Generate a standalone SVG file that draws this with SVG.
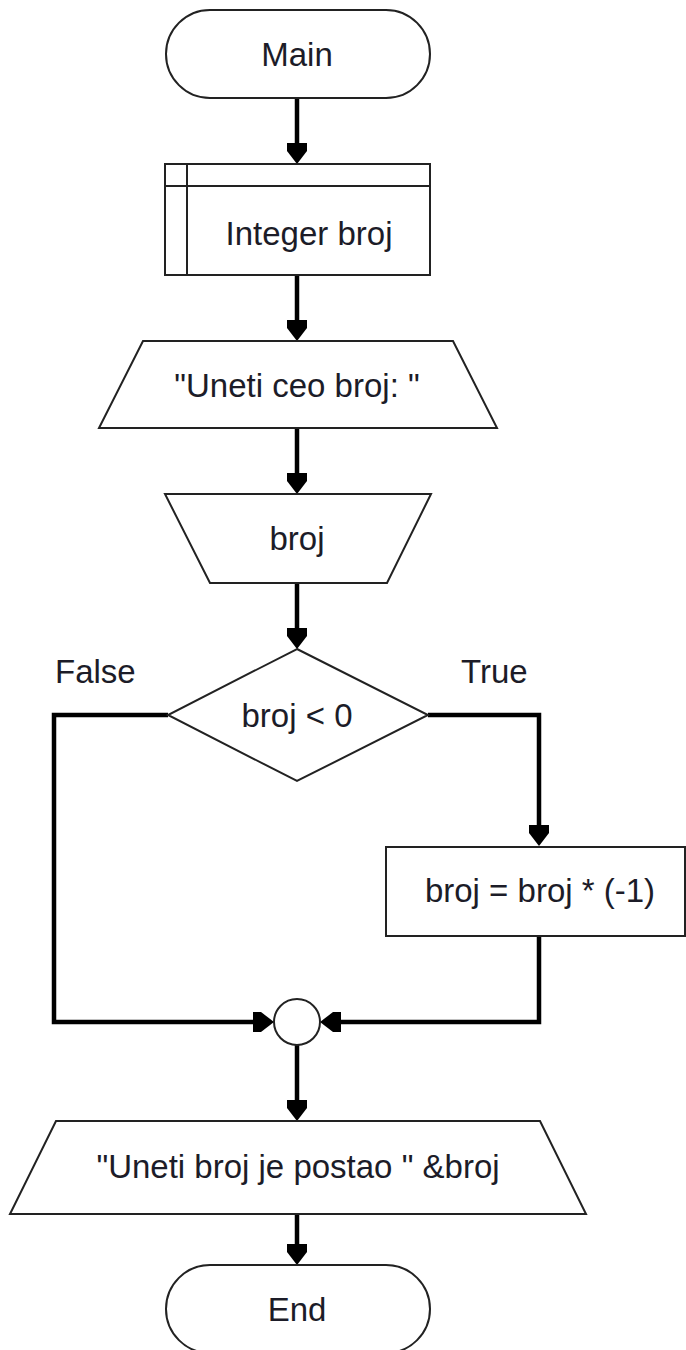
<svg xmlns="http://www.w3.org/2000/svg" width="686" height="1350" viewBox="0 0 686 1350">
  <style>
    .shape { fill: #ffffff; stroke: #222222; stroke-width: 2; }
    .lbl { font-family: "Liberation Sans", Arial, sans-serif; font-size: 33px; fill: #1c1c28; text-anchor: middle; }
    .side { font-family: "Liberation Sans", Arial, sans-serif; font-size: 33px; fill: #1c1c28; }
    .wire { fill: none; stroke: #000000; stroke-width: 4.5; stroke-linejoin: miter; }
  </style>
  <defs>
    <!-- arrowhead: tip at (0,0); the path ends 8px before the tip -->
    <marker id="head" viewBox="-22 -12 24 24" refX="-8" refY="0" markerWidth="24" markerHeight="24" markerUnits="userSpaceOnUse" orient="auto">
      <path d="M0,0 L-13,-10 L-21,-10 L-21,10 L-13,10 Z" fill="#000000"/>
    </marker>
  </defs>

  <rect width="686" height="1350" fill="#ffffff"/>

  <!-- connectors -->
  <g id="connectors">
    <path class="wire" d="M297,98 V156" marker-end="url(#head)"/>
    <path class="wire" d="M297,275 V333" marker-end="url(#head)"/>
    <path class="wire" d="M297,428 V486" marker-end="url(#head)"/>
    <path class="wire" d="M297,583 V641" marker-end="url(#head)"/>
    <path class="wire" d="M168,715 H54 V1022 H266" marker-end="url(#head)"/>
    <path class="wire" d="M428,715 H539 V838" marker-end="url(#head)"/>
    <path class="wire" d="M539,936 V1022 H328" marker-end="url(#head)"/>
    <path class="wire" d="M297,1045 V1113" marker-end="url(#head)"/>
    <path class="wire" d="M297,1214 V1257" marker-end="url(#head)"/>
  </g>

  <g id="main">
    <rect class="shape" x="166" y="10" width="264" height="88" rx="44" ry="44"/>
    <text class="lbl" x="297" y="66">Main</text>
  </g>

  <g id="declare">
    <rect class="shape" x="165" y="164" width="265" height="111"/>
    <line class="shape" x1="187" y1="164" x2="187" y2="275"/>
    <line class="shape" x1="165" y1="186" x2="430" y2="186"/>
    <text class="lbl" x="309" y="245">Integer broj</text>
  </g>

  <g id="prompt">
    <polygon class="shape" points="143,341 453,341 497,428 99,428"/>
    <text class="lbl" x="297" y="397">"Uneti ceo broj: "</text>
  </g>

  <g id="input">
    <polygon class="shape" points="165,494 431,494 387,583 210,583"/>
    <text class="lbl" x="297" y="550">broj</text>
  </g>

  <g id="decision">
    <polygon class="shape" points="297,649 428,715 297,781 168,715"/>
    <text class="lbl" x="297" y="727">broj &lt; 0</text>
    <text class="side" x="55" y="683">False</text>
    <text class="side" x="461" y="683">True</text>
  </g>

  <g id="negate">
    <rect class="shape" x="386" y="847" width="299" height="89"/>
    <text class="lbl" x="540" y="902">broj = broj * (-1)</text>
  </g>

  <g id="join">
    <circle class="shape" cx="297" cy="1022" r="23" stroke-width="1.8"/>
  </g>

  <g id="result">
    <polygon class="shape" points="56,1121 540,1121 586,1214 10,1214"/>
    <text class="lbl" x="298" y="1178">"Uneti broj je postao " &amp;broj</text>
  </g>

  <g id="end">
    <rect class="shape" x="166" y="1265" width="264" height="88" rx="44" ry="44"/>
    <text class="lbl" x="297" y="1321">End</text>
  </g>
</svg>
